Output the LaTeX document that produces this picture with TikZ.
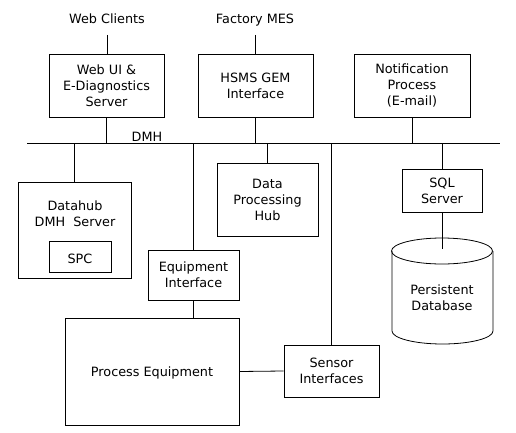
\documentclass[tikz,border=0pt]{standalone}
\usepackage{fontspec}
\setmainfont{DejaVu Sans}
\usetikzlibrary{positioning,calc}

\begin{document}
\begin{tikzpicture}[x=1pt, y=-1pt,
    box/.style={draw=black, line width=0.8pt, align=center, inner sep=0pt,
                font=\fontsize{12.8}{16}\selectfont,
                execute at begin node={\rule{0pt}{13.4pt}}},
    ext/.style={anchor=south, inner xsep=2pt, inner ysep=8pt,
                text height=9pt, text depth=3pt,
                font=\fontsize{12.8}{16}\selectfont},
    txt/.style={align=center, inner sep=0pt,
                font=\fontsize{12.8}{16}\selectfont},
    conn/.style={line width=0.8pt},
]
\useasboundingbox (0,0) rectangle (516,433);

% --- Outside clients ---
\node[ext] (webc) at (107,35) {Web Clients};
\node[ext] (mes) at (255,35) {Factory MES};

% --- Servers above the bus ---
\node[box, minimum width=115pt, minimum height=63pt] (web) at (106.5,85.5)
  {Web UI \&\\E-Diagnostics\\Server};
\node[box, minimum width=115pt, minimum height=63pt] (hsms) at (255.5,85.5)
  {HSMS GEM\\Interface};
\node[box, minimum width=116pt, minimum height=63pt] (notif) at (412,85.5)
  {Notification\\Process\\(E-mail)};

% --- DMH bus ---
\coordinate (busL) at (27,143);
\coordinate (busR) at (500,143);
\draw[conn] (busL) -- (busR);
\node[txt] (dmh) at (147,137) {DMH};

% --- Below the bus ---
\node[box, minimum width=113pt, minimum height=96pt] (dmhsrv) at (74.5,230) {};
\node[txt] (dmhtxt) at (75,214) {Datahub\\DMH~~Server};
\node[box, minimum width=62pt, minimum height=31pt] (spc) at (80,256.5) {SPC};
\node[box, minimum width=101pt, minimum height=73pt] (dph) at (267.5,199.5)
  {Data\\Processing\\Hub};
\node[box, minimum width=80pt, minimum height=43pt] (sql) at (442,190.5)
  {SQL\\Server};
\node[box, minimum width=91pt, minimum height=50pt] (eqif) at (193.5,275)
  {Equipment\\Interface};
\node[box, minimum width=174pt, minimum height=107pt] (proc) at (152,371.5)
  {Process Equipment};
\node[box, minimum width=95pt, minimum height=52pt] (sensor) at (331.5,371)
  {Sensor\\Interfaces};

% --- Persistent database (cylinder) ---
\draw[conn] (392,251) -- (392,331) arc[start angle=180, end angle=0,
  x radius=50.5, y radius=13] -- (493,251);
\draw[conn] (442,251) ellipse [x radius=50.5, y radius=13];
\node[txt] (db) at (442,298) {Persistent\\Database};
\coordinate (dbtop) at (442,249);

% --- Connectors ---
\draw[conn] (webc) -- (webc |- web.north);
\draw[conn] (mes) -- (mes |- hsms.north);
\draw[conn] (web) -- (web |- busL);
\draw[conn] (hsms) -- (hsms |- busL);
\draw[conn] (notif) -- (notif |- busL);
\draw[conn] (dmhsrv) -- (dmhsrv |- busL);
\draw[conn] (dph) -- (dph |- busL);
\draw[conn] (sql) -- (sql |- busL);
\draw[conn] (eqif) -- (eqif |- busL);
\draw[conn] (sensor) -- (sensor |- busL);
\draw[conn] (eqif) -- (eqif |- proc.north);
\draw[conn] (proc.east) -- (sensor.west);
\draw[conn] (sql) -- (dbtop);

\end{tikzpicture}
\end{document}
